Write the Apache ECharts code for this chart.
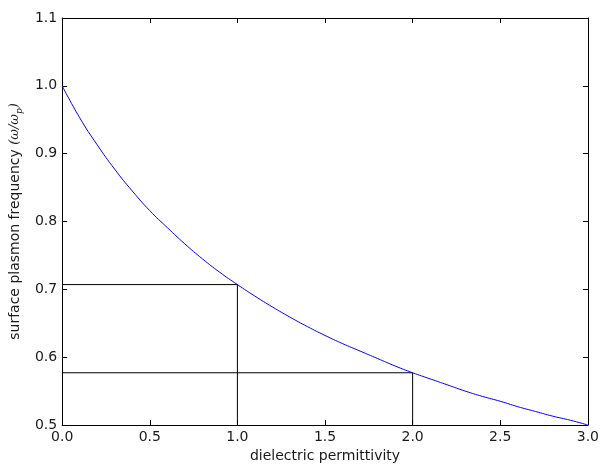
<!DOCTYPE html>
<html>
<head>
<meta charset="utf-8">
<script src="https://cdn.jsdelivr.net/npm/echarts@6/dist/echarts.min.js"></script>
<style>
  html, body { margin: 0; padding: 0; background: #fff; }
  #chart { width: 602px; height: 468px; }
</style>
</head>
<body>
<div id="chart"></div>
<script>
// Dielectric permittivity of the surrounding medium
var permittivity = [0.0, 0.1, 0.2, 0.3, 0.4, 0.5, 0.6, 0.7, 0.8, 0.9,
                    1.0, 1.1, 1.2, 1.3, 1.4, 1.5, 1.6, 1.7, 1.8, 1.9,
                    2.0, 2.1, 2.2, 2.3, 2.4, 2.5, 2.6, 2.7, 2.8, 2.9, 3.0];
// Surface plasmon frequency, normalised to the plasma frequency
var spFrequency = [1.000, 0.953, 0.913, 0.877, 0.845, 0.816, 0.791, 0.767, 0.745, 0.725,
                   0.707, 0.690, 0.674, 0.659, 0.645, 0.632, 0.620, 0.609, 0.598, 0.587,
                   0.577, 0.568, 0.559, 0.550, 0.542, 0.535, 0.527, 0.520, 0.513, 0.507, 0.500];
// Marker lines at eps = 1 and eps = 2
var markerEps = [1.0, 2.0];
var markerFreq = [0.707, 0.577];

var xTicks = { min: 0, max: 3, interval: 0.5 };
var yTicks = { min: 0.5, max: 1.1, interval: 0.1 };

var font = 'DejaVu Sans';
var fs = 14;
var textColor = '#1a1a1a';

var curve = permittivity.map(function (e, i) { return [e, spFrequency[i]]; });

var markerSeries = markerEps.map(function (e, i) {
  return {
    type: 'line',
    data: [[xTicks.min, markerFreq[i]], [e, markerFreq[i]], [e, yTicks.min]],
    symbol: 'none',
    silent: true,
    lineStyle: { color: '#000', width: 1 },
    z: 1
  };
});

function fmt(v) { return v.toFixed(1); }

function mainAxis(t, extra) {
  return Object.assign({
    type: 'value',
    min: t.min, max: t.max, interval: t.interval,
    axisLine: { show: true, onZero: false, lineStyle: { color: '#000', width: 1 } },
    axisTick: { show: true, inside: true, length: 5, lineStyle: { color: '#000' } },
    splitLine: { show: false },
    axisLabel: { color: textColor, fontFamily: font, fontSize: fs, formatter: fmt },
    nameTextStyle: { color: textColor, fontFamily: font, fontSize: fs }
  }, extra);
}

var chart = echarts.init(document.getElementById('chart'));
chart.setOption({
  animation: false,
  backgroundColor: '#fff',
  grid: { left: 62, right: 10, top: 18, bottom: 43 },
  xAxis: [
    mainAxis(xTicks, {
      position: 'bottom',
      name: 'dielectric permittivity',
      nameLocation: 'middle', nameGap: 18,
      axisLabel: { color: textColor, fontFamily: font, fontSize: fs, margin: 5, formatter: fmt }
    }),
    mainAxis(xTicks, { position: 'top', axisLabel: { show: false } })
  ],
  yAxis: [
    mainAxis(yTicks, {
      position: 'left',
      name: '{n|surface plasmon frequency }{m|(ω/ω}{s|p}{m|)}',
      nameLocation: 'middle', nameGap: 33, nameRotate: 90,
      nameTextStyle: {
        color: textColor, fontFamily: font, fontSize: fs,
        rich: {
          n: { fontFamily: font, fontSize: fs, color: textColor, lineHeight: 18 },
          m: { fontFamily: 'DejaVu Serif', fontStyle: 'italic', fontSize: 13, color: textColor, lineHeight: 18 },
          s: { fontFamily: 'DejaVu Serif', fontStyle: 'italic', fontSize: 9, color: textColor, lineHeight: 18, verticalAlign: 'bottom', padding: [5, 0, 0, 0] }
        }
      },
      axisLabel: { color: textColor, fontFamily: font, fontSize: fs, margin: 5, formatter: fmt }
    }),
    mainAxis(yTicks, { position: 'right', axisLabel: { show: false } })
  ],
  series: markerSeries.concat([{
    type: 'line',
    data: curve,
    smooth: true,
    symbol: 'none',
    lineStyle: { color: '#0000ff', width: 1 },
    z: 2
  }])
});
</script>
</body>
</html>
